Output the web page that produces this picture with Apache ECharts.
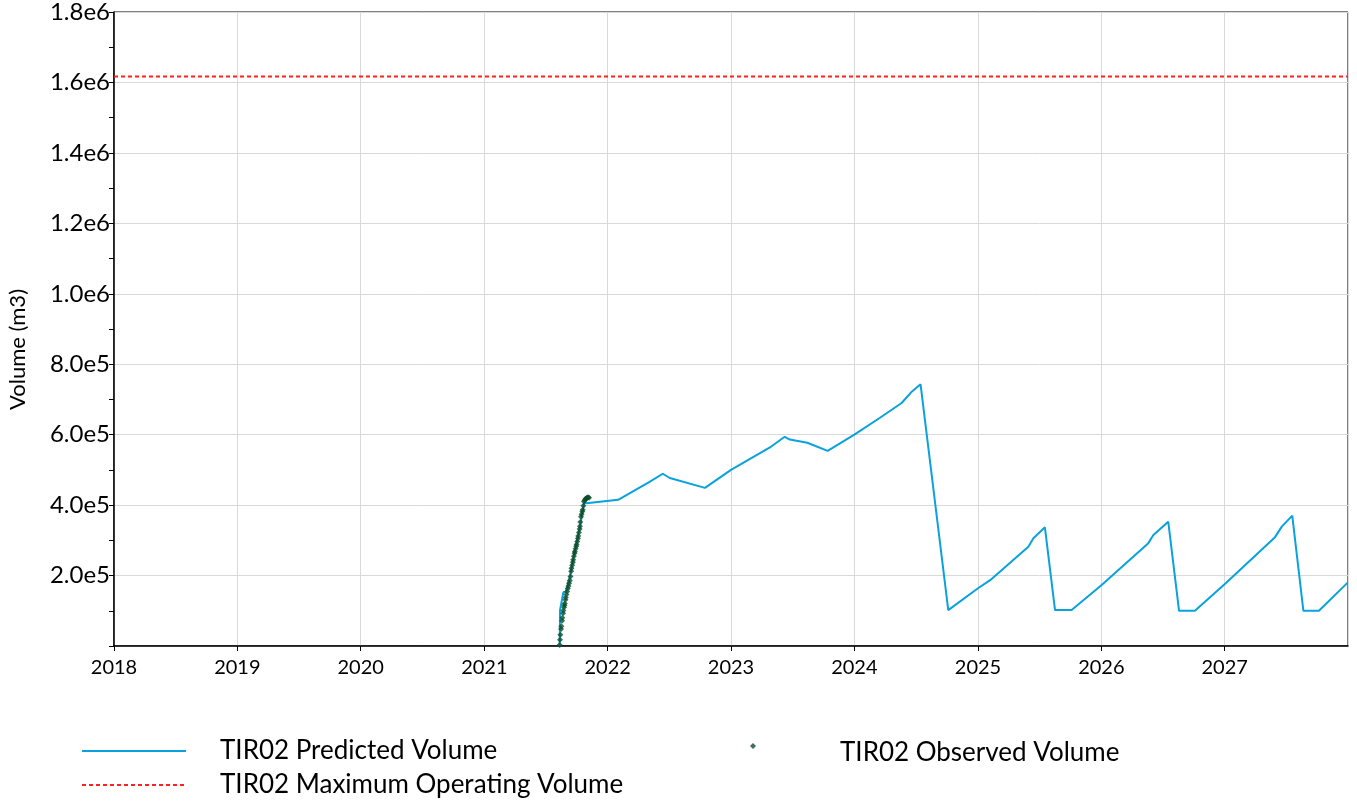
<!DOCTYPE html>
<html>
<head>
<meta charset="utf-8">
<script src="https://cdn.jsdelivr.net/npm/echarts@6/dist/echarts.min.js"></script>
<style>
  html, body { margin: 0; padding: 0; background: #fff; }
  #volumeChart { width: 1357px; height: 804px; }
</style>
</head>
<body>
<div id="volumeChart"></div>
<script>
// series names
const predictedName = "TIR02 Predicted Volume";
const maxName = "TIR02 Maximum Operating Volume";
const observedName = "TIR02 Observed Volume";

// predicted volume (m3)
const predictedDates = [
  "2021-08-12", "2021-08-13", "2021-08-23", "2021-08-30", "2021-09-11", "2021-09-26",
  "2021-10-11", "2021-10-23", "2021-10-30", "2022-02-01", "2022-05-05", "2022-06-13",
  "2022-07-04", "2022-10-16", "2023-01-01", "2023-04-25", "2023-06-09", "2023-06-24",
  "2023-08-15", "2023-10-14", "2024-01-01", "2024-03-17", "2024-05-20", "2024-06-19",
  "2024-07-15", "2024-10-05", "2025-01-01", "2025-02-06", "2025-05-30", "2025-06-14",
  "2025-07-18", "2025-08-17", "2025-10-05", "2026-01-02", "2026-05-20", "2026-06-04",
  "2026-07-18", "2026-08-19", "2026-10-05", "2027-01-04", "2027-05-30", "2027-06-19",
  "2027-07-20", "2027-08-22", "2027-10-07", "2027-12-31"
];
const predictedValues = [
  0, 102000, 153000, 153000, 197000, 273000,
  339000, 405000, 405000, 415000, 466000, 489000,
  477000, 449000, 500000, 563000, 594000, 586000,
  577000, 554000, 600000, 648000, 690000, 722000,
  743000, 102000, 164000, 187000, 282000, 306000,
  337000, 102000, 102000, 173000, 292000, 315000,
  353000, 100000, 100000, 178000, 309000, 339000,
  370000, 100000, 100000, 180000
];

// maximum operating volume (m3)
const maxDates = ["2018-01-01", "2028-01-01"];
const maxValues = [1617000, 1617000];

// observed volume (m3)
const observedDates = [
  "2021-08-12", "2021-08-13", "2021-08-14", "2021-08-16", "2021-08-17", "2021-08-19",
  "2021-08-20", "2021-08-22", "2021-08-23", "2021-08-25", "2021-08-26", "2021-08-27",
  "2021-08-29", "2021-08-30", "2021-09-01", "2021-09-03", "2021-09-05", "2021-09-07",
  "2021-09-09", "2021-09-11", "2021-09-13", "2021-09-15", "2021-09-16", "2021-09-18",
  "2021-09-20", "2021-09-21", "2021-09-23", "2021-09-25", "2021-09-26", "2021-09-28",
  "2021-09-30", "2021-10-01", "2021-10-03", "2021-10-05", "2021-10-06", "2021-10-08",
  "2021-10-10", "2021-10-11", "2021-10-12", "2021-10-14", "2021-10-16", "2021-10-18",
  "2021-10-19", "2021-10-21", "2021-10-23", "2021-10-25", "2021-10-27", "2021-10-29",
  "2021-10-31", "2021-11-02", "2021-11-04", "2021-11-07"
];
const observedValues = [
  3000, 18000, 32000, 48000, 56000, 72000,
  80000, 93000, 101000, 110000, 116000, 121000,
  131000, 138000, 146000, 155000, 163000, 170000,
  178000, 186000, 197000, 212000, 221000, 229000,
  238000, 245000, 255000, 263000, 268000, 276000,
  283000, 288000, 297000, 305000, 312000, 322000,
  332000, 340000, 352000, 367000, 374000, 382000,
  387000, 398000, 410000, 414000, 417000, 419000,
  420000, 421000, 422000, 421000
];

// y axis ticks
const yMin = 0;
const yMax = 1800000;
const yStep = 200000;

const zip = (a, b) => a.map((d, i) => [d, b[i]]);

const fontFamily = "Lato, 'Open Sans', sans-serif";
const chart = echarts.init(document.getElementById("volumeChart"));

const legendText = {
  fontFamily: fontFamily,
  fontSize: 26,
  color: "#000",
  padding: [0, 0, 0, 29],
};

const option = {
  animation: false,
  backgroundColor: "#fff",
  grid: {
    left: 114,
    right: 9,
    top: 12,
    bottom: 158,
    show: true,
    borderColor: "#000",
    borderWidth: 1,
  },
  legend: [
    {
      data: [predictedName],
      left: 76,
      top: 733,
      itemWidth: 104,
      itemHeight: 14,
      itemStyle: { opacity: 0 },
      textStyle: legendText,
    },
    {
      data: [maxName],
      left: 76,
      top: 767,
      itemWidth: 104,
      itemHeight: 14,
      itemStyle: { opacity: 0 },
      textStyle: legendText,
    },
    {
      // marker sits above the middle of the text here
      data: [{ name: observedName, icon: "diamond" }],
      left: 745,
      top: 735,
      itemWidth: 6,
      itemHeight: 6,
      formatter: "{t|{name}}",
      textStyle: Object.assign({}, legendText, {
        padding: [0, 0, 0, 79],
        rich: {
          t: {
            fontFamily: fontFamily,
            fontSize: 26,
            color: "#000",
            lineHeight: 40,
            verticalAlign: "bottom",
          },
        },
      }),
    },
  ],
  graphic: [
    {
      type: "text",
      left: 7,
      top: 289,
      rotation: Math.PI / 2,
      style: {
        text: "Volume (m3)",
        font: "22px " + fontFamily,
        fill: "#000",
      },
    },
  ],
  xAxis: {
    type: "time",
    min: "2018-01-01",
    max: "2028-01-01",
    splitNumber: 10,
    axisLine: { lineStyle: { color: "#000", width: 1.5 } },
    axisTick: { show: true, length: 5, lineStyle: { color: "#000" } },
    axisLabel: {
      formatter: "{yyyy}",
      showMaxLabel: false,
      color: "#000",
      fontFamily: fontFamily,
      fontSize: 20,
      margin: 12,
    },
    splitLine: { show: true, lineStyle: { color: "#d9d9d9", width: 1 } },
  },
  yAxis: {
    type: "value",
    min: yMin,
    max: yMax,
    interval: yStep,
    axisLine: { show: true, lineStyle: { color: "#000", width: 1.5 } },
    axisTick: { show: true, length: 5, lineStyle: { color: "#000" } },
    minorTick: { show: true, splitNumber: 2, length: 5, lineStyle: { color: "#000" } },
    axisLabel: {
      color: "#000",
      fontFamily: fontFamily,
      fontSize: 24,
      margin: 4,
      formatter: function (v) {
        // 0 is not labelled in the original
        if (v === 0) return "";
        return v.toExponential(1).replace("e+", "e");
      },
    },
    splitLine: { show: true, lineStyle: { color: "#d9d9d9", width: 1 } },
  },
  series: [
    {
      name: predictedName,
      type: "line",
      data: zip(predictedDates, predictedValues),
      symbol: "none",
      lineStyle: { color: "#0aa2dc", width: 2 },
      itemStyle: { color: "#0aa2dc" },
      z: 3,
    },
    {
      name: maxName,
      type: "line",
      data: zip(maxDates, maxValues),
      symbol: "none",
      lineStyle: { color: "#ff2020", width: 2, type: [4, 3] },
      itemStyle: { color: "#ff2020" },
      z: 2,
    },
    {
      name: observedName,
      type: "scatter",
      data: zip(observedDates, observedValues),
      symbol: "diamond",
      symbolSize: 6,
      itemStyle: { color: "#0b4d2b" },
      z: 4,
    },
  ],
};

chart.setOption(option);
</script>
</body>
</html>
